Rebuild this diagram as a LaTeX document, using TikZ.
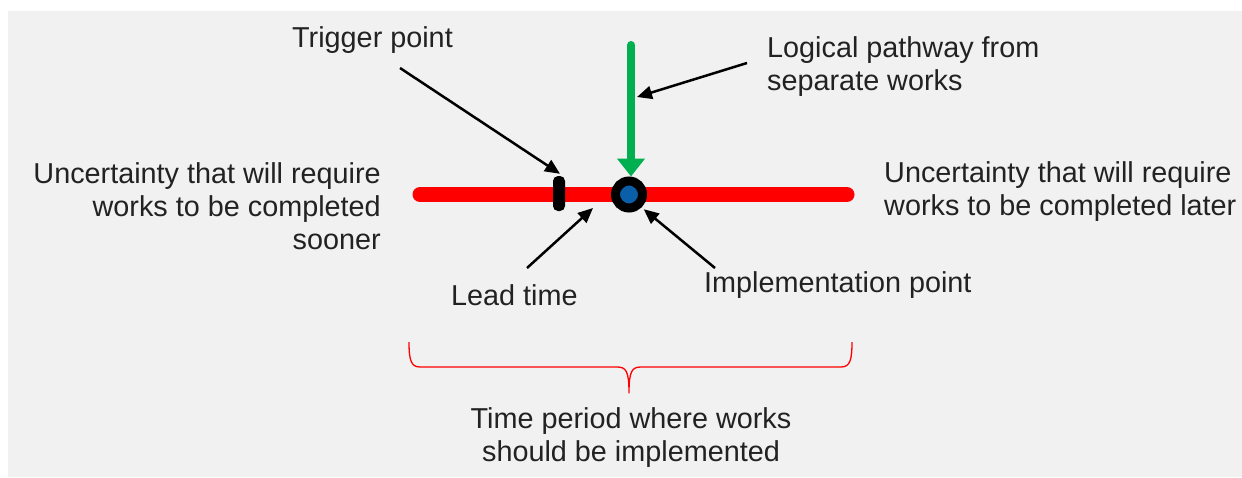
\documentclass[tikz,border=0pt]{standalone}
\usepackage{fontspec}
\setmainfont{Liberation Sans}
\usetikzlibrary{arrows.meta}
\definecolor{bgcol}{HTML}{F1F1F1}
\definecolor{redline}{HTML}{FF0000}
\definecolor{greenline}{HTML}{00B050}
\definecolor{bluedot}{HTML}{0B5EA8}
\definecolor{txtcol}{HTML}{222222}
\tikzset{
  lbl/.style={inner sep=0pt, text=txtcol, font=\fontsize{28.8}{33}\selectfont},
  pointer/.style={line width=2.5pt, -{Triangle[length=15pt,width=13pt]}},
}
\begin{document}
\begin{tikzpicture}[x=1pt,y=-1pt]
\useasboundingbox (0,0) rectangle (1242,477);
\fill[bgcol] (8,11) rectangle (1242,477);

% timeline
\coordinate (tl) at (420,194.5);
\coordinate (tr) at (847,194.5);
\draw[redline, line width=15pt, line cap=round] (tl) -- (tr);

% trigger mark and implementation point
\node[fill=black, rounded corners=5pt, minimum width=12pt, minimum height=35pt, inner sep=0pt] (trig) at (559,193.5) {};
\node[circle, draw=black, line width=9pt, fill=bluedot, minimum size=27pt, inner sep=0pt] (impl) at (629,194.5) {};

% green pathway arrow
\coordinate (gtop) at (631,45);
\draw[greenline, line width=8pt, line cap=round, -{Triangle[length=18pt,width=27pt]}] (gtop) -- (impl.north -| gtop);

% labels
\node[lbl, anchor=base west] (trigl) at (292,47) {Trigger point};
\node[lbl, anchor=west, align=left] (logl) at (767,66.5) {Logical pathway from\\separate works};
\node[lbl, anchor=east, align=right] (leftl) at (381,206.5) {Uncertainty that will require\\works to be completed\\sooner};
\node[lbl, anchor=west, align=left] (rightl) at (884,192) {Uncertainty that will require\\works to be completed later};
\node[lbl, anchor=base west] (leadl) at (451,305) {Lead time};
\node[lbl, anchor=base west] (impll) at (704,292) {Implementation point};
\node[lbl, align=center] (periodl) at (631,438) {Time period where works\\should be implemented};

% pointers
\coordinate (trigtail) at (400,68);
\coordinate (logtail) at (747,63);
\coordinate (logtip) at (637,97);
\coordinate (leadtail) at (527,268);
\coordinate (leadtip) at (593,208);
\coordinate (impltail) at (715,268);
\draw[pointer] (trigtail) -- ([shift={(1,-2)}]trig.north);
\draw[pointer] (logtail) -- (logtip);
\draw[pointer] (leadtail) -- (leadtip);
\draw[pointer] (impltail) -- ([shift={(2,2)}]impl.-45);

% brace
\coordinate (bl) at (409,342);
\coordinate (bm) at (629,393);
\coordinate (br) at (852,342);
\draw[redline, line width=1.3pt, line join=round]
  (bl) .. controls (409,360) and (411,367) .. (420,367) -- (617,367)
  .. controls (626,367) and (629,371) .. (bm)
  .. controls (629,371) and (632,367) .. (641,367) -- (841,367)
  .. controls (850,367) and (852,360) .. (br);
\end{tikzpicture}
\end{document}
